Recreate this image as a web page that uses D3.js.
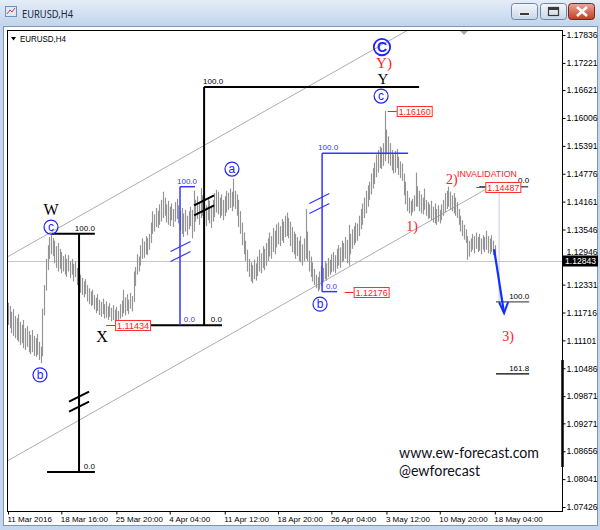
<!DOCTYPE html>
<html><head><meta charset="utf-8">
<script src="https://cdnjs.cloudflare.com/ajax/libs/d3/7.8.5/d3.min.js"></script>
<style>html,body{margin:0;padding:0;background:#fff}svg{display:block}</style>
</head><body>
<svg id="chart" width="600" height="530"></svg>
<script>
// ---------- DATA (EURUSD H4 bars) ----------
const highs = [
1.1193,1.1186,1.1173,1.1179,1.1164,1.1159,1.1168,1.1151,1.1144,1.1155,1.1137,1.1142,1.1131,1.1122,1.1133,1.1120,1.1115,1.1124,1.1107,1.1096,
1.1180,1.1232,1.1290,1.1320,1.1338,1.1345,1.1336,1.1330,1.1318,1.1325,
1.1312,1.1305,1.1296,1.1300,1.1290,1.1298,1.1285,1.1290,1.1279,1.1284,1.1270,1.1262,1.1255,1.1248,1.1240,1.1245,1.1232,1.1225,1.1218,1.1222,
1.1210,1.1204,1.1212,1.1200,1.1195,1.1202,1.1190,1.1196,1.1185,1.1192,1.1182,1.1188,1.1178,1.1184,1.1175,
1.1190,1.1198,1.1222,1.1205,1.1212,1.1200,1.1215,1.1208,1.1262,1.1272,1.1300,1.1295,1.1320,1.1335,1.1328,1.1340,1.1336,1.1345,1.1370,1.1395,
1.1388,1.1402,1.1396,1.1410,1.1420,1.1438,
1.1425,1.1410,1.1418,1.1405,1.1412,1.1400,1.1415,1.1422,1.1408,1.1395,1.1402,1.1390,1.1398,1.1385,1.1395,1.1405,1.1398,1.1440,1.1420,
1.1428,1.1415,1.1446,1.1430,1.1420,1.1408,1.1425,1.1418,1.1405,1.1420,1.1435,1.1442,1.1438,1.1425,1.1432,1.1420,1.1428,1.1440,1.1436,1.1445,
1.1438,1.1466,
1.1440,1.1432,1.1420,1.1395,1.1370,1.1348,1.1330,1.1310,1.1290,1.1282,1.1276,1.1288,1.1280,1.1295,1.1310,1.1302,1.1318,1.1312,1.1325,
1.1335,1.1348,1.1340,1.1358,1.1352,1.1366,1.1370,1.1362,1.1378,1.1372,1.1385,1.1392,1.1380,1.1372,1.1360,1.1350,1.1345,1.1338,1.1330,
1.1340,1.1322,1.1335,1.1400,1.1350,1.1308,1.1295,1.1282,1.1268,1.1255,1.1250,
1.1262,1.1275,1.1270,1.1285,1.1280,1.1292,1.1288,1.1300,1.1305,1.1298,1.1312,1.1320,1.1315,1.1330,1.1325,1.1338,1.1332,1.1365,1.1345,
1.1355,1.1362,1.1370,1.1368,1.1385,1.1400,1.1412,1.1425,1.1440,1.1452,1.1460,1.1478,1.1490,1.1502,1.1520,1.1530,1.1538,1.1535,1.1545,1.1616,
1.1575,1.1560,1.1545,1.1530,1.1520,1.1528,1.1532,1.1515,1.1505,1.1500,1.1478,1.1460,1.1440,1.1425,1.1418,1.1422,1.1430,1.1480,1.1450,1.1440,
1.1432,1.1425,1.1445,1.1420,1.1415,1.1410,1.1418,1.1405,1.1412,1.1400,1.1408,1.1398,1.1410,1.1420,1.1435,1.1440,1.1449,1.1438,1.1430,1.1435,
1.1425,1.1415,1.1400,1.1385,1.1375,1.1365,1.1355,1.1340,1.1330,1.1335,1.1345,1.1340,1.1348,1.1338,1.1345,1.1335,1.1342,1.1338,1.1352,1.1340,
1.1335,1.1342,1.1330,1.1320
];
const lows = [
1.1144,1.1137,1.1126,1.1120,1.1115,1.1111,1.1107,1.1100,1.1104,1.1093,1.1089,1.1096,1.1084,1.1080,1.1084,1.1076,1.1074,1.1078,1.1067,1.1060,
1.1075,1.1165,1.1220,1.1265,1.1290,1.1300,1.1296,1.1280,1.1270,1.1262,
1.1268,1.1258,1.1262,1.1255,1.1250,1.1262,1.1248,1.1255,1.1240,1.1250,1.1232,1.1226,1.1215,1.1210,1.1205,1.1212,1.1196,1.1190,1.1186,1.1188,
1.1178,1.1170,1.1175,1.1166,1.1162,1.1168,1.1158,1.1160,1.1155,1.1162,1.1152,1.1155,1.1148,1.1150,1.1143,
1.1158,1.1162,1.1170,1.1165,1.1175,1.1168,1.1180,1.1174,1.1195,1.1230,1.1255,1.1262,1.1275,1.1290,1.1292,1.1300,1.1298,1.1310,1.1325,1.1345,
1.1350,1.1360,1.1358,1.1365,1.1372,1.1380,
1.1385,1.1370,1.1365,1.1362,1.1375,1.1360,1.1372,1.1378,1.1368,1.1352,1.1345,1.1338,1.1350,1.1342,1.1355,1.1362,1.1335,1.1350,1.1372,
1.1378,1.1365,1.1380,1.1385,1.1370,1.1362,1.1375,1.1368,1.1358,1.1372,1.1382,1.1392,1.1388,1.1380,1.1385,1.1375,1.1384,1.1392,1.1398,1.1402,
1.1395,1.1405,
1.1400,1.1385,1.1360,1.1345,1.1320,1.1300,1.1285,1.1262,1.1250,1.1240,1.1236,1.1245,1.1242,1.1252,1.1262,1.1258,1.1270,1.1265,1.1275,
1.1285,1.1295,1.1290,1.1305,1.1300,1.1315,1.1322,1.1318,1.1330,1.1325,1.1338,1.1340,1.1335,1.1318,1.1305,1.1300,1.1290,1.1296,1.1285,
1.1282,1.1275,1.1285,1.1290,1.1285,1.1262,1.1250,1.1240,1.1232,1.1225,1.1218,
1.1222,1.1230,1.1238,1.1245,1.1242,1.1250,1.1255,1.1260,1.1262,1.1258,1.1268,1.1275,1.1270,1.1282,1.1285,1.1290,1.1280,1.1275,1.1300,
1.1312,1.1320,1.1325,1.1330,1.1340,1.1355,1.1365,1.1380,1.1390,1.1405,1.1420,1.1432,1.1445,1.1455,1.1470,1.1480,1.1490,1.1488,1.1495,1.1505,
1.1520,1.1500,1.1495,1.1485,1.1478,1.1480,1.1490,1.1475,1.1468,1.1462,1.1430,1.1410,1.1395,1.1390,1.1385,1.1392,1.1395,1.1405,1.1405,1.1395,
1.1390,1.1388,1.1398,1.1385,1.1378,1.1380,1.1375,1.1370,1.1368,1.1365,1.1372,1.1368,1.1375,1.1385,1.1392,1.1400,1.1405,1.1398,1.1395,1.1390,
1.1385,1.1380,1.1365,1.1350,1.1340,1.1332,1.1325,1.1288,1.1295,1.1305,1.1310,1.1302,1.1312,1.1305,1.1308,1.1300,1.1310,1.1305,1.1310,1.1302,
1.1300,1.1305,1.1298,1.1287
];
const lastPrice = 1.12843;
const priceTicks = [1.17836,1.17221,1.16621,1.16006,1.15391,1.14776,1.14161,1.13546,1.12946,1.12331,1.11716,1.11101,1.10486,1.09871,1.09271,1.08656,1.08041,1.07426];
const timeLabels = ["11 Mar 2016","18 Mar 16:00","25 Mar 20:00","4 Apr 04:00","11 Apr 12:00","18 Apr 20:00","26 Apr 04:00","3 May 12:00","10 May 20:00","18 May 04:00"];
const timeIdx = [0,31,63,94,126,157,188,220,251,283];
const priceMarks = [ // red price labels: [barIndex, price]
  [64, 1.11434], [180, 1.12176], [219, 1.16160], [274, 1.14487]
];

// ---------- SETUP ----------
const svg = d3.select("#chart");
const L = 7, R = 562, T = 30, B = 511;
const x = d3.scaleLinear().domain([0, 283]).range([8, 494.8]);
const y = d3.scaleLinear().domain([1.07426, 1.17836]).range([507, 35]);
const SANS = "'Liberation Sans', Arial, sans-serif";
const SERIF = "'Liberation Serif', 'Times New Roman', serif";

const defs = svg.append("defs");
const gt = defs.append("linearGradient").attr("id","tb").attr("x1",0).attr("x2",0).attr("y1",0).attr("y2",1);
gt.append("stop").attr("offset",0).attr("stop-color","#e4edf8");
gt.append("stop").attr("offset",1).attr("stop-color","#c3d5eb");
const gb = defs.append("linearGradient").attr("id","btn").attr("x1",0).attr("x2",0).attr("y1",0).attr("y2",1);
gb.append("stop").attr("offset",0).attr("stop-color","#f4f7fb");
gb.append("stop").attr("offset",1).attr("stop-color","#c8d6e8");
const gr = defs.append("linearGradient").attr("id","btnr").attr("x1",0).attr("x2",0).attr("y1",0).attr("y2",1);
gr.append("stop").attr("offset",0).attr("stop-color","#e9a999");
gr.append("stop").attr("offset",1).attr("stop-color","#c23a22");
defs.append("clipPath").attr("id","clip").append("rect")
  .attr("x",L).attr("y",T).attr("width",R-L).attr("height",B-T);

// ---------- WINDOW CHROME ----------
svg.append("rect").attr("width",600).attr("height",530).attr("fill","#c5d7ee");
svg.append("rect").attr("width",600).attr("height",25).attr("fill","url(#tb)");
svg.append("rect").attr("x",3.5).attr("y",26.5).attr("width",594).attr("height",499)
  .attr("fill","#fff").attr("stroke","#7f96b2");
// icon
svg.append("rect").attr("x",5.5).attr("y",6.5).attr("width",11).attr("height",10).attr("fill","#dfe8f5").attr("stroke","#6b8fc0");
svg.append("path").attr("d","M7,14 L10,10 L12,12 L15,8").attr("fill","none").attr("stroke","#d04040").attr("stroke-width",1);
svg.append("text").attr("x",22).attr("y",18).attr("font-family","'Noto Sans', sans-serif").attr("font-size",11.5)
  .attr("textLength",51).attr("lengthAdjust","spacingAndGlyphs").attr("fill","#1a2a40").text("EURUSD,H4");
// buttons
[[511.5,"url(#btn)","#6f86a4"],[540.5,"url(#btn)","#6f86a4"],[568.5,"url(#btnr)","#7a2616"]].forEach(b=>{
  svg.append("rect").attr("x",b[0]).attr("y",3.5).attr("width",26).attr("height",16).attr("rx",3)
    .attr("fill",b[1]).attr("stroke",b[2]);
});
svg.append("rect").attr("x",519.5).attr("y",12.5).attr("width",10).attr("height",3).attr("fill","#3a3a3a").attr("stroke","#fff").attr("stroke-width",0.8);
svg.append("rect").attr("x",548.5).attr("y",7.5).attr("width",10).attr("height",8).attr("fill","none").attr("stroke","#3a3a3a").attr("stroke-width",1.2);
svg.append("line").attr("x1",548.5).attr("x2",558.5).attr("y1",9).attr("y2",9).attr("stroke","#3a3a3a").attr("stroke-width",2);
svg.append("path").attr("d","M577,7 L587,16 M587,7 L577,16").attr("stroke","#fff").attr("stroke-width",2.6);

// ---------- CHART ----------
const g = svg.append("g").attr("clip-path","url(#clip)");

// current price line
g.append("line").attr("x1",L).attr("x2",R).attr("y1",Math.round(y(lastPrice))+0.5).attr("y2",Math.round(y(lastPrice))+0.5)
  .attr("stroke","#c8c8c8");

// channel lines
const upper = [[0,1.1295],[283,1.1903]];
const lower = [[0,1.0845],[279,1.1446]];
[upper, lower].forEach(c=>{
  g.append("line").attr("x1",x(c[0][0])).attr("y1",y(c[0][1])).attr("x2",x(c[1][0])).attr("y2",y(c[1][1]))
    .attr("stroke","#a4a4a4").attr("stroke-width",0.9);
});

// bars
g.append("g").selectAll("line").data(highs).join("line")
  .attr("x1",(d,i)=>Math.round(x(i))+0.5).attr("x2",(d,i)=>Math.round(x(i))+0.5)
  .attr("y1",d=>y(d)).attr("y2",(d,i)=>y(lows[i]))
  .attr("stroke","#949494").attr("stroke-width",1.15);

// helpers
function hline(i1,i2,p,col,w){ g.append("line").attr("x1",x(i1)).attr("x2",x(i2)).attr("y1",y(p)).attr("y2",y(p)).attr("stroke",col).attr("stroke-width",w); }
function vline(i,p1,p2,col,w){ g.append("line").attr("x1",x(i)).attr("x2",x(i)).attr("y1",y(p1)).attr("y2",y(p2)).attr("stroke",col).attr("stroke-width",w); }
function txt(px,py,s,opt){
  const t = g.append("text").attr("x",px).attr("y",py).text(s)
    .attr("font-family",opt.font||SANS).attr("font-size",opt.size||8).attr("fill",opt.col||"#000")
    .attr("text-anchor",opt.anchor||"start");
  if(opt.bold) t.attr("font-weight","bold");
  if(opt.len) t.attr("textLength",opt.len).attr("lengthAdjust","spacingAndGlyphs");
  return t;
}
function slashes(i,p,col,w){
  const cx=x(i), cy=y(p);
  [-5,5].forEach(o=>g.append("line").attr("x1",cx-10).attr("y1",cy+o+5).attr("x2",cx+10).attr("y2",cy+o-5)
    .attr("stroke",col).attr("stroke-width",w));
}
function circ(i,p,ch,big){
  const cx=x(i), cy=y(p), col="#2222ff";
  g.append("circle").attr("cx",cx).attr("cy",cy).attr("r",big?8.2:7).attr("fill","#fff").attr("fill-opacity",0)
    .attr("stroke",col).attr("stroke-width",big?1.8:1.2);
  txt(cx,cy+(big?5:3.8),ch,{size:big?14:12,col:col,anchor:"middle",bold:big});
}

// ---- black fib (W) ----
hline(25.5,50.5,1.1345,"#000",2);
vline(41.3,1.1345,1.0820,"#000",2);
hline(22.7,50.5,1.0820,"#000",2);
txt(x(50.5),y(1.1345)-3,"100.0",{anchor:"end",size:8});
txt(x(50.5),y(1.0820)-3,"0.0",{anchor:"end",size:8});
slashes(41.3,1.0975,"#000",2);

// ---- black fib (big) ----
vline(114,1.1669,1.11434,"#000",2);
hline(114,239,1.1669,"#000",2);
hline(64,124.4,1.11434,"#000",2);
txt(x(114)-1,y(1.1669)-3,"100.0",{size:8});
txt(x(124.4),y(1.11434)-3,"0.0",{anchor:"end",size:8});
slashes(114,1.1408,"#000",2);

// ---- blue fib (a) ----
const BL = "#3535ff";
vline(100,1.1449,1.11434,BL,1.5);
hline(100,108.7,1.1449,BL,1.5);
txt(x(100)-3,y(1.1449)-3,"100.0",{size:8,col:BL});
txt(x(108.7),y(1.11434)-3,"0.0",{anchor:"end",size:8,col:BL});
slashes(100.3,1.1306,BL,1.2);

// ---- blue fib (b) ----
vline(182.6,1.1523,1.12176,BL,1.5);
hline(182.6,232.6,1.1523,BL,1.5);
hline(182.6,191.3,1.12176,BL,1.5);
txt(x(182.6)-4,y(1.1523)-3,"100.0",{size:8,col:BL});
txt(x(191.3),y(1.12176)-3,"0.0",{anchor:"end",size:8,col:BL});
slashes(181,1.1412,BL,1.2);

// ---- right fib (projection) ----
g.append("line").attr("x1",x(285.5)).attr("x2",x(285.5)).attr("y1",y(1.14487)).attr("y2",y(1.1195)).attr("stroke","#c8c8ee");
hline(274,302.4,1.14487,"#000",1);
hline(283.7,303,1.1195,"#555",1.2);
hline(283.7,303,1.1036,"#000",1.2);
txt(x(303),y(1.14487)-4,"0.0",{anchor:"end",size:8});
txt(x(303),y(1.1195)-3,"100.0",{anchor:"end",size:8});
txt(x(303),y(1.1036)-3,"161.8",{anchor:"end",size:8});

// ---- red price marks ----
priceMarks.forEach(m=>{
  const yy = Math.round(y(m[1]))+0.5;
  const x0 = x(m[0]) + (m[0]===64 ? -12 : (m[0]===180 ? 27 : (m[0]===219 ? 3 : -3)));
  g.append("line").attr("x1",x0).attr("x2",x0+9).attr("y1",yy).attr("y2",yy).attr("stroke","#ff2020").attr("stroke-width",1);
  g.append("rect").attr("x",x0+9.5).attr("y",yy-5).attr("width",35).attr("height",10)
    .attr("fill","#fff").attr("stroke","#ff3030").attr("stroke-width",1);
  txt(x0+27,yy+3.3,d3.format(".5f")(m[1]),{anchor:"middle",size:9,col:"#ff1a1a",len:32});
});

// ---- wave labels ----
circ(25,1.1360,"c");
circ(18.6,1.1034,"b");
circ(130.2,1.1488,"a");
circ(181.4,1.1190,"b");
circ(216.9,1.1649,"c");
circ(217.4,1.1757,"C",true);
txt(x(25),y(1.1398)+5,"W",{font:SERIF,size:16,anchor:"middle"});
txt(x(54.7),y(1.1118)+5,"X",{font:SERIF,size:16,anchor:"middle"});
txt(x(218.6),y(1.1720)+4,"Y)",{font:SERIF,size:15,anchor:"middle",col:"#ff2020"});
txt(x(218),y(1.1688)+6,"Y",{font:SERIF,size:15,anchor:"middle"});
txt(x(234.9),y(1.1362)+5,"1)",{font:SERIF,size:14,anchor:"middle",col:"#ff2020"});
txt(x(258),y(1.1466)+5,"2)",{font:SERIF,size:14,anchor:"middle",col:"#ff2020"});
txt(x(290.7),y(1.1120)+5,"3)",{font:SERIF,size:14,anchor:"middle",col:"#ff2020"});
txt(x(261),y(1.1477)+3,"INVALIDATION",{size:9,col:"#ff2020",len:60});

// ---- forecast arrow ----
const a0=[282.6,1.1311], a1=[288.4,1.1170];
g.append("line").attr("x1",x(a0[0])).attr("y1",y(a0[1])).attr("x2",x(a1[0])).attr("y2",y(a1[1]))
  .attr("stroke","#1030ff").attr("stroke-width",2.2);
g.append("path").attr("d",`M${x(a1[0])-5},${y(a1[1])-11} L${x(a1[0])},${y(a1[1])} L${x(a1[0])+4},${y(a1[1])-11}`)
  .attr("fill","none").attr("stroke","#1030ff").attr("stroke-width",2);

// ---- watermark ----
txt(399,458,"www.ew-forecast.com",{font:"Lato, sans-serif",size:14.5,col:"#111122",len:140});
txt(399,476,"@ewforecast",{font:"Lato, sans-serif",size:14.5,col:"#111122",len:81});

// ---- chart label ----
svg.append("path").attr("d","M11,37 L16,37 L13.5,40.5 Z").attr("fill","#000");
svg.append("text").attr("x",20).attr("y",42).attr("font-family",SANS).attr("font-size",8.5)
  .attr("textLength",46).attr("lengthAdjust","spacingAndGlyphs").text("EURUSD,H4");
// shift marker
svg.append("path").attr("d","M460,31 L468,31 L464,35 Z").attr("fill","#a8a8a8");

// ---- frame ----
svg.append("rect").attr("x",L+0.5).attr("y",T+0.5).attr("width",R-L).attr("height",B-T)
  .attr("fill","none").attr("stroke","#000");
svg.append("line").attr("x1",R+0.5).attr("x2",R+0.5).attr("y1",360).attr("y2",467).attr("stroke","#000").attr("stroke-width",2.5);

// ---- axes ----
const ay = svg.append("g").attr("transform",`translate(${R+0.5},0)`)
  .call(d3.axisRight(y).tickValues(priceTicks).tickFormat(d3.format(".5f")).tickSize(3).tickPadding(1));
ay.select(".domain").remove();
ay.selectAll("text").attr("font-family",SANS).attr("font-size",8.6).attr("fill","#000");
// the tick label under the current-price box is hidden by it, as in the picture
ay.selectAll(".tick").filter(d=>Math.abs(d-lastPrice)<0.002).select("text").attr("dy","-0.25em");

const ax = svg.append("g").attr("transform",`translate(0,${B+0.5})`)
  .call(d3.axisBottom(x).tickValues(timeIdx).tickFormat((d,i)=>timeLabels[i]).tickSize(3).tickPadding(2));
ax.select(".domain").remove();
ax.selectAll("text").attr("font-family",SANS).attr("font-size",8).attr("text-anchor","start").attr("dx",-1).attr("fill","#000");

// current price box
const yp = Math.round(y(lastPrice));
svg.append("rect").attr("x",R+1).attr("y",yp-5.5).attr("width",35).attr("height",11).attr("fill","#000");
svg.append("text").attr("x",R+3).attr("y",yp+3.3).attr("font-family",SANS).attr("font-size",8.6).attr("fill","#fff").text(d3.format(".5f")(lastPrice));
</script>
</body></html>
